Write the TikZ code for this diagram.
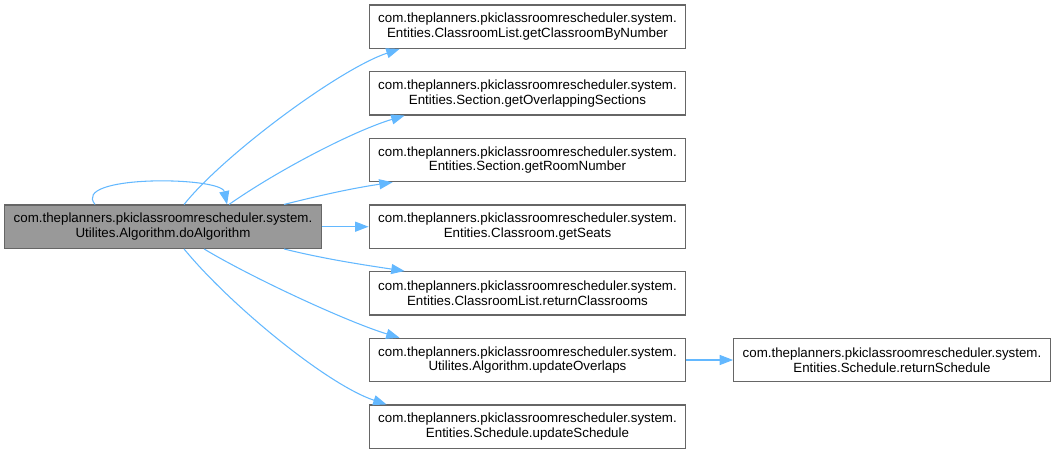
\documentclass[tikz,border=0pt]{standalone}
\usepackage{fontspec}
\setmainfont{Liberation Sans}
\usetikzlibrary{arrows.meta,calc}
\definecolor{edgec}{HTML}{63B8FF}
\definecolor{boxc}{HTML}{666666}
\definecolor{curc}{HTML}{999999}
\tikzset{
  fn/.style={draw=boxc, line width=0.9pt, fill=white, minimum width=237.5pt, minimum height=32.5pt,
    inner sep=0pt, align=center, font=\fontsize{10pt}{11pt}\selectfont, text=black},
  cur/.style={fn, fill=curc},
  call/.style={draw=edgec, line width=0.8pt, -{Triangle[length=10pt,width=7.5pt]}},
}
\begin{document}
\begin{tikzpicture}[x=0.75pt,y=-0.75pt]
\useasboundingbox (0,0) rectangle (1056,453);
\node[cur] (n0) at (163,226.7) {com.theplanners.pkiclassroomrescheduler.system.\\Utilites.Algorithm.doAlgorithm};
\node[fn] (m1) at (527.5,26.7) {com.theplanners.pkiclassroomrescheduler.system.\\Entities.ClassroomList.getClassroomByNumber};
\node[fn] (m2) at (527.5,93.3) {com.theplanners.pkiclassroomrescheduler.system.\\Entities.Section.getOverlappingSections};
\node[fn] (m3) at (527.5,160) {com.theplanners.pkiclassroomrescheduler.system.\\Entities.Section.getRoomNumber};
\node[fn] (m4) at (527.5,226.7) {com.theplanners.pkiclassroomrescheduler.system.\\Entities.Classroom.getSeats};
\node[fn] (m5) at (527.5,293.3) {com.theplanners.pkiclassroomrescheduler.system.\\Entities.ClassroomList.returnClassrooms};
\node[fn] (m6) at (527.5,360) {com.theplanners.pkiclassroomrescheduler.system.\\Utilites.Algorithm.updateOverlaps};
\node[fn] (m7) at (527.5,426.7) {com.theplanners.pkiclassroomrescheduler.system.\\Entities.Schedule.updateSchedule};
\node[fn] (r1) at (892,360) {com.theplanners.pkiclassroomrescheduler.system.\\Entities.Schedule.returnSchedule};
% self loop
\draw[call] ($(n0.north west)+(91,0)$) .. controls +(-25,-30) and +(-6,-28) .. ($(n0.north west)+(223,0)$);
% calls
\draw[call] ($(n0.north west)+(180,0)$) .. controls +(40,-50) and +(-60,20) .. ($(m1.south west)+(31,0)$);
\draw[call] ($(n0.north west)+(225,0)$) .. controls +(50,-35) and +(-50,15) .. ($(m2.south west)+(36,0)$);
\draw[call] ($(n0.north west)+(280,0)$) .. controls +(40,-10) and +(-40,6) .. ($(m3.south west)+(24,0)$);
\draw[call] (n0.east) -- (m4.west);
\draw[call] ($(n0.south west)+(280,0)$) .. controls +(40,10) and +(-40,-6) .. ($(m5.north west)+(36,0)$);
\draw[call] ($(n0.south west)+(200,0)$) .. controls +(50,30) and +(-50,-15) .. ($(m6.north west)+(31,0)$);
\draw[call] ($(n0.south west)+(180,0)$) .. controls +(45,55) and +(-60,-20) .. ($(m7.north west)+(18,0)$);
\draw[call] (m6.east) -- (r1.west);
\end{tikzpicture}
\end{document}
